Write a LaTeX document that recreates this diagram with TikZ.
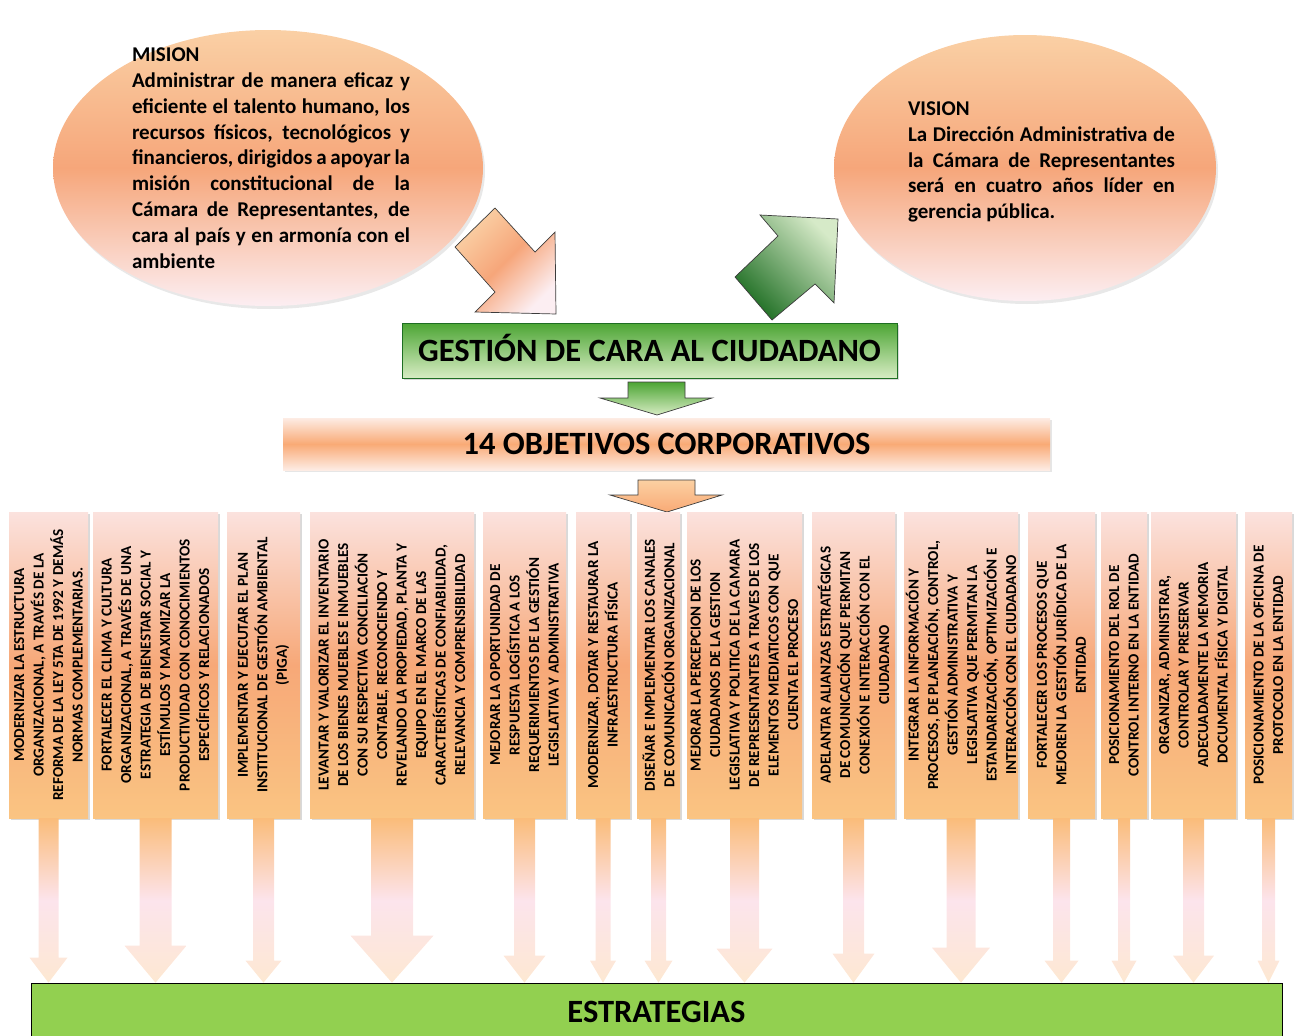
\documentclass[tikz,border=0pt]{standalone}
\usepackage{fontspec}
\setmainfont{Carlito}
\usetikzlibrary{shapes.geometric,shadows,calc}
\definecolor{orTop}{RGB}{251,226,222}
\definecolor{orMid}{RGB}{247,168,120}
\definecolor{orBot}{RGB}{250,196,130}
\definecolor{arTop}{RGB}{250,188,122}
\definecolor{arMid}{RGB}{252,228,236}
\definecolor{arBot}{RGB}{253,232,210}
\definecolor{elTop}{RGB}{250,208,165}
\definecolor{elMid}{RGB}{246,166,122}
\definecolor{elBot}{RGB}{252,238,242}
\definecolor{obPale}{RGB}{253,236,228}
\definecolor{obMid}{RGB}{249,170,118}
\definecolor{gDark}{RGB}{76,165,52}
\definecolor{gLight}{RGB}{215,236,195}
\definecolor{gDeep}{RGB}{30,110,35}
\definecolor{gPale}{RGB}{214,234,200}
\definecolor{estGreen}{RGB}{146,208,80}
\definecolor{outl}{RGB}{60,60,60}
\begin{document}
\begin{tikzpicture}[x=1pt,y=-1pt,
  colbox/.style={rectangle, inner sep=0pt, top color=orTop, bottom color=orBot, middle color=orMid,
    drop shadow={shadow xshift=1.5pt, shadow yshift=-2pt, opacity=0.3}},
  coltext/.style={rotate=90, align=center, inner sep=0pt, font=\bfseries\fontsize{15.2}{19.5}\selectfont},
  colarrow/.style={top color=arTop, bottom color=arBot, middle color=arMid},
  ellbox/.style={ellipse, inner sep=0pt, top color=elTop, bottom color=elBot, middle color=elMid,
    drop shadow={shadow xshift=2pt, shadow yshift=-3pt, opacity=0.18}},
  bigtext/.style={font=\bfseries\fontsize{32.5}{33}\selectfont, text height=21pt, text depth=0pt},
  blockarrow/.style={draw=outl, line width=0.7pt}
]
\useasboundingbox (0,0) rectangle (1302,1036);

% ---- Mision / Vision ellipses
\node[ellbox, minimum width=430pt, minimum height=276pt] (mis) at (268,168) {};
\node[text width=278pt, align=justify, inner sep=0pt,
      font=\bfseries\fontsize{21}{25.8}\selectfont] (mistxt) at (271,158)
  {\hyphenpenalty=10000 MISION\\Administrar de manera eficaz y\linebreak eficiente el talento humano, los\linebreak recursos físicos, tecnológicos y\linebreak financieros, dirigidos a apoyar la\linebreak misión constitucional de la\linebreak Cámara de Representantes, de\linebreak cara al país y en armonía con el\linebreak ambiente};

\node[ellbox, minimum width=382pt, minimum height=266pt] (vis) at (1025,168) {};
\node[text width=267pt, align=justify, inner sep=0pt,
      font=\bfseries\fontsize{21}{25.8}\selectfont] (vistxt) at (1041.5,162)
  {\hyphenpenalty=10000 VISION\\La Dirección Administrativa de\linebreak la Cámara de Representantes\linebreak será en cuatro años líder en\linebreak gerencia pública.};

% ---- Green banner
\node[draw=gDeep, line width=0.6pt, top color=gDark, bottom color=gLight,
      minimum width=495pt, minimum height=55pt, inner sep=0pt, bigtext,
      drop shadow={shadow xshift=1.5pt, shadow yshift=-2pt, opacity=0.3}]
      (gest) at (649.5,350.5) {GESTIÓN DE CARA AL CIUDADANO};

% ---- arrows from/to ellipses
\path[blockarrow, top color=elTop, bottom color=elBot, middle color=elMid, shading angle=45]
  (455,247) -- (495,208) -- (535,252) -- (555,232) -- (556,314) -- (475,312) -- (495,292) -- cycle;
\path[blockarrow, top color=gPale, bottom color=gDeep, shading angle=-45]
  (735,277) -- (778,236) -- (760,215) -- (838,219) -- (834,303) -- (815,284) -- (772,320) -- cycle;

% ---- green down arrow
\path[blockarrow, top color=gDark, bottom color=gLight]
  (628,382) -- (685,382) -- (685,398) -- (712,398) -- (657,415) -- (600,398) -- (628,398) -- cycle;

% ---- Orange banner
\node[top color=obPale, bottom color=obPale, middle color=obMid,
      minimum width=767pt, minimum height=52pt, inner sep=0pt, bigtext,
      drop shadow={shadow xshift=1.5pt, shadow yshift=-2pt, opacity=0.2}]
      (obj) at (666.5,444) {14 OBJETIVOS CORPORATIVOS};

% ---- orange down arrow
\path[blockarrow, top color=arTop!70!white, bottom color=obMid]
  (638,480) -- (695,480) -- (695,495) -- (722,495) -- (667,512) -- (610,495) -- (638,495) -- cycle;

% ---- Estrategias
\node[draw=black, line width=0.7pt, fill=estGreen, minimum width=1251pt, minimum height=58pt,
      inner sep=0pt, bigtext] (est) at (656.5,1012) {ESTRATEGIAS};

% ---- columns
\foreach \xa/\xb/\txt [count=\i] in {
  9/88/{MODERNIZAR LA ESTRUCTURA\\ORGANIZACIONAL, A TRAVÉS DE LA\\REFORMA DE LA LEY 5TA DE 1992 Y DEMÁS\\NORMAS COMPLEMENTARIAS.},
  93/218/{FORTALECER EL CLIMA Y CULTURA\\ORGANIZACIONAL, A TRAVÉS DE UNA\\ESTRATEGIA DE BIENESTAR SOCIAL Y\\ESTÍMULOS Y MAXIMIZAR LA\\PRODUCTIVIDAD CON CONOCIMIENTOS\\ESPECÍFICOS Y RELACIONADOS},
  227/300/{IMPLEMENTAR Y EJECUTAR EL PLAN\\INSTITUCIONAL DE GESTIÓN AMBIENTAL\\(PIGA)},
  310/474/{LEVANTAR Y VALORIZAR EL INVENTARIO\\DE LOS BIENES MUEBLES E INMUEBLES\\CON SU RESPECTIVA CONCILIACIÓN\\CONTABLE, RECONOCIENDO Y\\REVELANDO LA PROPIEDAD, PLANTA Y\\EQUIPO EN EL MARCO DE LAS\\CARACTERÍSTICAS DE CONFIABILIDAD,\\RELEVANCIA Y COMPRENSIBILIDAD},
  483/566/{MEJORAR LA OPORTUNIDAD DE\\RESPUESTA LOGÍSTICA A LOS\\REQUERIMIENTOS DE LA GESTIÓN\\LEGISLATIVA Y ADMINISTRATIVA},
  576/630/{MODERNIZAR, DOTAR Y RESTAURAR LA\\INFRAESTRUCTURA FÍSICA},
  637/680/{DISEÑAR E IMPLEMENTAR LOS CANALES\\DE COMUNICACIÓN ORGANIZACIONAL},
  687/802/{MEJORAR LA PERCEPCION DE LOS\\CIUDADANOS DE LA GESTION\\LEGISLATIVA Y POLITICA DE LA CAMARA\\DE REPRESENTANTES A TRAVES DE LOS\\ELEMENTOS MEDIATICOS CON QUE\\CUENTA EL PROCESO},
  812/895/{ADELANTAR ALIANZAS ESTRATÉGICAS\\DE COMUNICACIÓN QUE PERMITAN\\CONEXIÓN E INTERACCIÓN CON EL\\CIUDADANO},
  904/1018/{INTEGRAR LA INFORMACIÓN Y\\PROCESOS, DE PLANEACIÓN, CONTROL,\\GESTIÓN ADMINISTRATIVA Y\\LEGISLATIVA QUE PERMITAN LA\\ESTANDARIZACIÓN, OPTIMIZACIÓN E\\INTERACCIÓN CON EL CIUDADANO},
  1028/1095/{FORTALECER LOS PROCESOS QUE\\MEJOREN LA GESTIÓN JURÍDICA DE LA\\ENTIDAD},
  1101/1147/{POSICIONAMIENTO DEL ROL DE\\CONTROL INTERNO EN LA ENTIDAD},
  1151/1236/{ORGANIZAR, ADMINISTRAR,\\CONTROLAR Y PRESERVAR\\ADECUADAMENTE LA MEMORIA\\DOCUMENTAL FÍSICA Y DIGITAL},
  1245/1292/{POSICIONAMIENTO DE LA OFICINA DE\\PROTOCOLO EN LA ENTIDAD}}
{
  \node[colbox, minimum width={(\xb-\xa)*1pt}, minimum height=306pt] (c\i) at ({(\xa+\xb)/2},665) {};
  \node[coltext] (t\i) at (c\i.center) {\txt};
}

% ---- arrows from columns to Estrategias
\foreach \i/\s/\h/\l in {1/10/19/25, 2/16/31/37, 3/10.5/18/22, 4/21/41.5/47, 5/10.5/21/27,
  6/7.5/13/22, 7/7.5/14/22, 8/14.5/28/34, 9/10.5/21/29, 10/14.5/29/35, 11/8.5/17/22,
  12/6/12.5/22, 13/10.5/20.5/27, 14/6.5/11/22}
{
  \coordinate (tip\i) at (c\i.south |- est.north);
  \path[colarrow] ($(c\i.south)+(-\s,0)$) -- ($(c\i.south)+(\s,0)$)
    -- ($(tip\i)+(\s,-\l)$) -- ($(tip\i)+(\h,-\l)$) -- (tip\i)
    -- ($(tip\i)+(-\h,-\l)$) -- ($(tip\i)+(-\s,-\l)$) -- cycle;
}
\end{tikzpicture}
\end{document}
